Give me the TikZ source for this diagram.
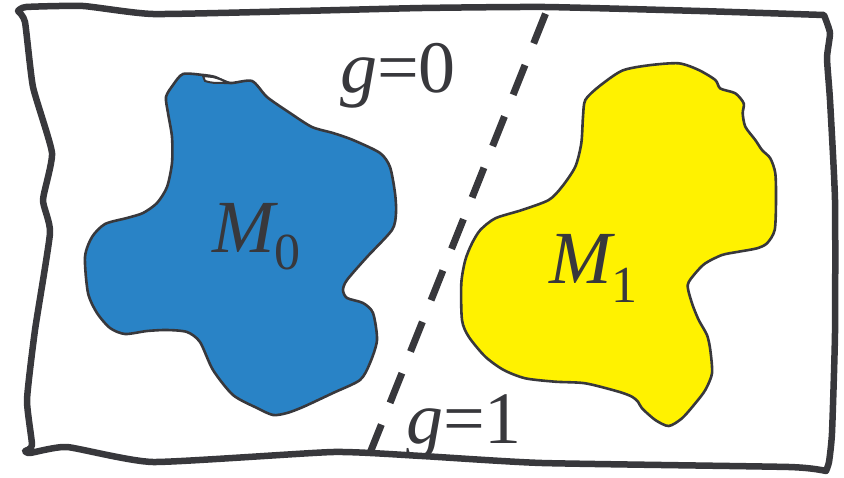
\documentclass[tikz,border=0pt]{standalone}
\usepackage{fontspec}
\setmainfont{Liberation Serif}
\definecolor{ink}{RGB}{56,56,60}
\definecolor{mblue}{RGB}{41,131,198}
\definecolor{myellow}{RGB}{255,242,0}
\tikzset{
  frame/.style={draw=ink, line width=6.5pt, line join=round, line cap=round},
  blob/.style={draw=ink, line width=2.6pt, line join=round},
  divider/.style={draw=ink, line width=7pt, dash pattern=on 32pt off 23.3pt, dash phase=51.3pt},
  lbl/.style={text=ink, inner sep=0pt, anchor=base west},
}
\begin{document}
\begin{tikzpicture}[x=1pt,y=-1pt]
\useasboundingbox (0,0) rectangle (844,477);
% frame
\draw[frame] plot[smooth, tension=0.3] coordinates {
 (18,11) (26,7) (83,6) (153,14) (300,11) (422,8) (545,7) (700,11) (824,15)}
 -- plot[smooth, tension=0.3] coordinates {(824,15) (830,33) (827,58) (830,100) (835,200) (835,333) (832,433) (829,462) (826,471)}
 -- plot[smooth, tension=0.3] coordinates {(826,471) (789,467) (542,463) (422,456) (333,452) (153,462) (67,447) (30,453) (25,451)}
 -- plot[smooth, tension=0.3] coordinates {(25,451) (32,445) (27,400) (35,330) (50,233) (43,200) (52,153) (33,87) (25,22) (18,11)};
% blue blob M0
\draw[blob, fill=mblue] plot[smooth cycle, tension=0.45] coordinates {
 (183,74) (203,75) (215,77) (230,83) (252,81) (267,97) (290,113) (312,127) (333,133)
 (353,140) (380,153) (390,167) (395,193) (396,213) (392,230) (367,257) (347,280)
 (343,290) (347,298) (363,303) (373,313) (377,340) (370,363) (360,380) (333,393)
 (303,407) (287,413) (273,415) (257,408) (233,395) (213,370) (200,342) (187,332)
 (167,330) (147,331) (125,334) (110,328) (97,313) (88,293) (85,257) (92,237)
 (105,224) (127,218) (143,213) (157,203) (167,187) (172,163) (172,137) (168,113)
 (166,97) (173,85)};
\draw[draw=ink, line width=2pt, fill=white, line join=round] (203,76) -- (205,81) .. controls (212,83) .. (229,83) .. controls (220,79) .. (213,77) -- cycle;
% yellow blob M1
\draw[blob, fill=myellow] plot[smooth cycle, tension=0.45] coordinates {
 (585.3,100) (598.7,86.7) (622,70.7) (648.7,65.3) (678.7,63.3) (698.7,70) (715.3,80)
 (720.3,88.5) (735.3,93.3) (743.7,103.3) (742.7,113.3) (745.3,126.7) (755.3,140)
 (762,150) (770.3,158.3) (775.3,173.3) (776,200) (774.7,230) (767,243.3) (757,248.3)
 (738.7,251.7) (722,255) (705.3,263.3) (695.3,273.3) (687.7,285) (692,303.3)
 (698.7,320) (707,335) (710.3,350) (712,373.3) (705.3,390) (695.3,403.3) (682,418.3)
 (668.7,426) (655.3,420) (642,408.3) (638,401.7) (632,396.7) (618.7,391.7)
 (585.3,383.3) (555.3,381.7) (525.3,378.3) (503.7,370) (485.3,356.7) (468.7,336.7)
 (462,320) (461.3,283.3) (465.3,260) (472,243.3) (480.3,230) (495.3,218.3)
 (522,210) (548.7,200) (562,186.7) (575.3,166.7) (581.3,143.3) (583,116.7)};
% dashed divider
\coordinate (dtop) at (547,10);
\coordinate (dbot) at (370,453);
\draw[divider] (dtop) -- (dbot);
% labels
\node[lbl] (g0) at (340,92) {\fontsize{74}{80}\selectfont\itshape g\upshape=0};
\node[lbl] (g1) at (406,443) {\fontsize{74}{80}\selectfont\itshape g\upshape=1};
\node[lbl] (m0) at (212,252) {\fontsize{75}{80}\selectfont\itshape M\upshape\raisebox{-17pt}{\fontsize{52}{56}\selectfont 0}};
\node[lbl] (m1) at (549,283) {\fontsize{75}{80}\selectfont\itshape M\upshape\raisebox{-19pt}{\fontsize{52}{56}\selectfont 1}};
\end{tikzpicture}
\end{document}
